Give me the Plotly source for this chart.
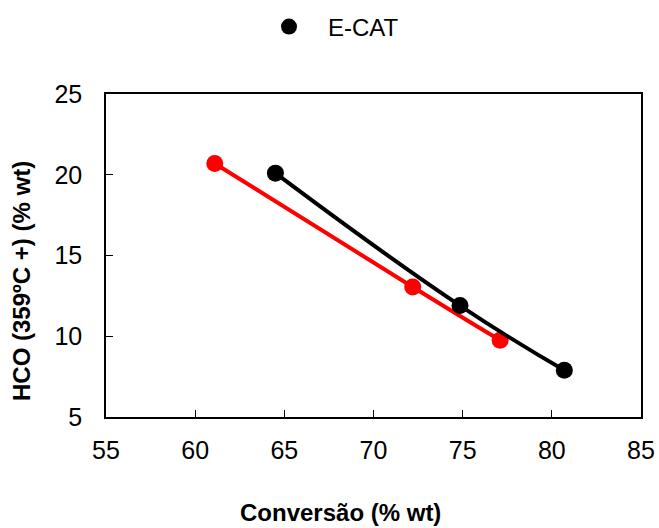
import plotly.graph_objects as go

# Data
red_conv = [61.1, 72.2, 77.1]
red_hco = [20.7, 13.05, 9.75]
ecat_conv = [64.5, 74.85, 80.7]
ecat_hco = [20.1, 11.9, 7.9]

x_ticks = [55, 60, 65, 70, 75, 80, 85]
y_ticks = [5, 10, 15, 20, 25]

FONT = "Liberation Sans, Arial, sans-serif"
W, H = 659, 528
L, R, T, B = 106, 18, 94, 111

fig = go.Figure()
fig.add_trace(go.Scatter(
    x=red_conv, y=red_hco, mode="lines+markers", name="",
    line=dict(color="#ff0000", width=4, shape="spline", smoothing=1.3),
    marker=dict(color="#ff0000", size=17), showlegend=False))
fig.add_trace(go.Scatter(
    x=ecat_conv, y=ecat_hco, mode="lines+markers", name="E-CAT",
    line=dict(color="#000000", width=4, shape="spline", smoothing=1.3),
    marker=dict(color="#000000", size=17), showlegend=False))
# legend entry showing only the marker
fig.add_trace(go.Scatter(
    x=[None], y=[None], mode="markers", name="E-CAT",
    marker=dict(color="#000000", size=17), showlegend=True))

axis_common = dict(
    showgrid=False, zeroline=False, showline=True, linecolor="#000000",
    linewidth=1.5, mirror=True, ticks="inside", ticklen=7, tickwidth=1,
    tickcolor="#000000", tickfont=dict(family=FONT, size=25, color="#000000"),
    automargin=False,
)
fig.update_xaxes(range=[55, 85], tickvals=x_ticks, ticktext=[str(v) for v in x_ticks],
                 ticklabelstandoff=10, **axis_common)
fig.update_yaxes(range=[5, 25], tickvals=y_ticks, ticktext=[str(v) for v in y_ticks],
                 ticklabelstandoff=17, **axis_common)

fig.add_annotation(text="<b>Conversão (% wt)</b>", xref="paper", yref="paper",
                   x=(340 - L) / (W - L - R), y=-(512 - (H - B)) / (H - T - B),
                   xanchor="center", yanchor="middle", showarrow=False,
                   font=dict(family=FONT, size=24, color="#000000"))
fig.add_annotation(text="<b>HCO (359ºC +) (% wt)</b>", xref="paper", yref="paper",
                   x=(21 - L) / (W - L - R), y=((H - B) - 281) / (H - T - B),
                   xanchor="center", yanchor="middle", textangle=-90, showarrow=False,
                   font=dict(family=FONT, size=24, color="#000000"))

fig.update_layout(
    template="none",
    width=W, height=H, margin=dict(l=L, r=R, t=T, b=B, autoexpand=False),
    paper_bgcolor="#ffffff", plot_bgcolor="#ffffff",
    showlegend=True,
    legend=dict(orientation="h", xref="container", yref="container",
                x=(283 - 33) / W, xanchor="left", y=1 - 27 / H, yanchor="middle",
                itemwidth=68, font=dict(family=FONT, size=24, color="#000000"),
                bgcolor="rgba(0,0,0,0)"),
)

fig.write_html("out.html")
